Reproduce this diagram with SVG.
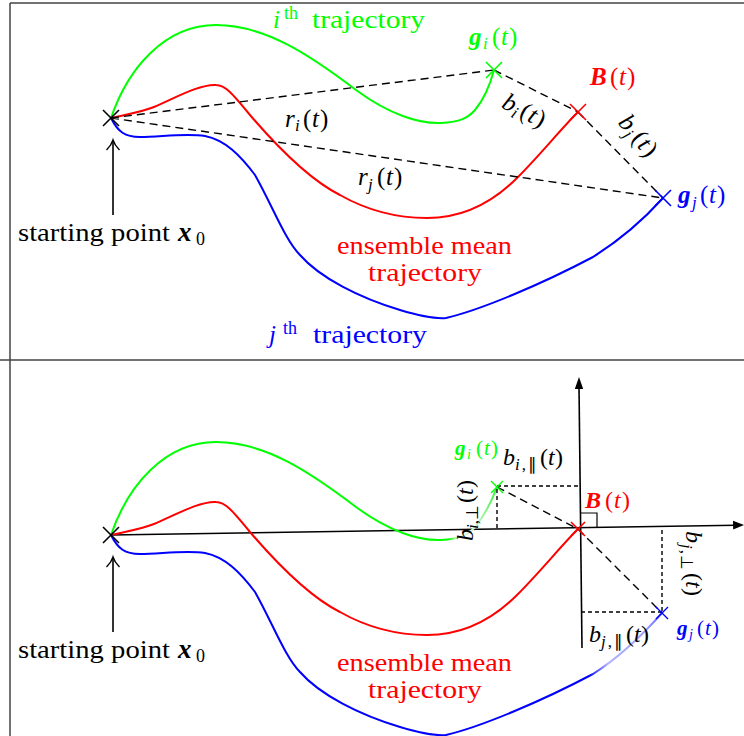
<svg xmlns="http://www.w3.org/2000/svg" width="744" height="736" viewBox="0 0 744 736">
<style>
text{font-family:"Liberation Serif","Times New Roman",serif;}
.it{font-style:italic}
.bi{font-style:italic;font-weight:bold}
.cv{fill:none;stroke-width:2;stroke-linejoin:round;stroke-linecap:round}
.dash{fill:none;stroke:#000;stroke-width:1.4;stroke-dasharray:8 5}
.fdash{fill:none;stroke:#000;stroke-width:1.4;stroke-dasharray:4 3}
.ax{fill:none;stroke:#000;stroke-width:1.6}
.frame{fill:none;stroke:#444;stroke-width:1.5}
.g{fill:#00ff00}
.r{fill:#ff0000}
.b{fill:#0000ff}
</style>
<defs>
<linearGradient id="fadeG" gradientUnits="userSpaceOnUse" x1="111" y1="0" x2="497" y2="0">
<stop offset="0" stop-color="#00ff00"/>
<stop offset="0.875" stop-color="#00ff00"/>
<stop offset="0.9" stop-color="#dcf6dc"/>
<stop offset="0.95" stop-color="#c8f5c8"/>
<stop offset="1" stop-color="#30f030"/>
</linearGradient>
<linearGradient id="fadeB" gradientUnits="userSpaceOnUse" x1="111" y1="0" x2="663" y2="0">
<stop offset="0" stop-color="#0000ff"/>
<stop offset="0.865" stop-color="#0000ff"/>
<stop offset="0.9" stop-color="#b4b4ff"/>
<stop offset="0.97" stop-color="#a0a0ff"/>
<stop offset="1" stop-color="#6060ff"/>
</linearGradient>
<path id="arrUp" d="M106.5,150 C109.5,147 111.8,144 113,140 C114.2,144 116.5,147 119.5,150" fill="none" stroke="#000" stroke-width="1.4"/>
</defs>

<g id="frame">
<path class="frame" d="M10,3 H744 M10,3 V736 M0,360 H744"/>
</g>

<g id="top">
<g id="connectors-top">
<path class="cv" stroke="#00ff00" d="M111,118 C128,68 165,25 216,25 C265,25 310,55 356,90 C390,115 420,124 441,123 C460,122 468,118 475,110 C485,98 490,85 494,70"/>
<path class="cv" stroke="#ff0000" d="M111,118 C128,114 142,112 154,107 C175,98 200,84 216,85 C225,85 232,93 250,115 C280,150 310,180 340,195 C370,212 400,218 427,218 C460,218 490,205 517,178 C540,155 560,130 578,112"/>
<path class="cv" stroke="#0000ff" d="M111,118 C118,132 125,137 140,137 C160,137 185,133 205,136 C225,140 240,155 255,175 C272,205 285,240 300,255 C320,278 360,298 400,310 C420,316 435,319 446,318 C480,310 540,285 593,257 C620,240 645,218 663,198"/>
<path class="dash" d="M111,118 L494,70 M111,118 L663,198 M494,70 L578,112 M578,112 L663,198"/>
<path d="M113,215 V141" stroke="#000" stroke-width="1.6" fill="none"/>
<use href="#arrUp"/>
</g>
<g id="x0-top">
<path d="M103,110 L119,126 M103,126 L119,110" stroke="#000" stroke-width="1.6"/>
<text x="18" y="241" font-size="26" textLength="152" lengthAdjust="spacingAndGlyphs">starting point</text>
<text class="bi" x="178" y="241" font-size="27">x</text>
<text x="196" y="245" font-size="18">0</text>
</g>
<g id="gi-top">
<path d="M486,62 L502,78 M486,78 L502,62" stroke="#00ff00" stroke-width="1.6"/>
<text class="bi g" x="469" y="45" font-size="25">g</text>
<text class="it g" x="483" y="49" font-size="17">i</text>
<text class="g" x="492" y="45" font-size="25">(</text>
<text class="it g" x="501" y="45" font-size="25">t</text>
<text class="g" x="509" y="45" font-size="25">)</text>
</g>
<g id="B-top">
<path d="M570,104 L586,120 M570,120 L586,104" stroke="#ff0000" stroke-width="1.6"/>
<text class="bi r" x="590" y="85" font-size="25">B</text>
<text class="r" x="610" y="85" font-size="25">(</text>
<text class="it r" x="619" y="85" font-size="25">t</text>
<text class="r" x="627" y="85" font-size="25">)</text>
</g>
<g id="gj-top">
<path d="M655,190 L671,206 M655,206 L671,190" stroke="#0000ff" stroke-width="1.6"/>
<text class="bi b" x="678" y="203" font-size="25">g</text>
<text class="it b" x="692" y="208" font-size="17">j</text>
<text class="b" x="700" y="203" font-size="25">(</text>
<text class="it b" x="709" y="203" font-size="25">t</text>
<text class="b" x="717" y="203" font-size="25">)</text>
</g>
<g id="labels-top">
<text class="it g" x="273" y="28" font-size="25">i</text>
<text class="g" x="284" y="19" font-size="18">th</text>
<text class="g" x="312" y="28" font-size="26" textLength="113" lengthAdjust="spacingAndGlyphs">trajectory</text>
<text class="it b" x="269" y="343" font-size="25">j</text>
<text class="b" x="283" y="334" font-size="18">th</text>
<text class="b" x="313" y="343" font-size="26" textLength="114" lengthAdjust="spacingAndGlyphs">trajectory</text>
<text class="r" x="337" y="254" font-size="26" textLength="175" lengthAdjust="spacingAndGlyphs">ensemble mean</text>
<text class="r" x="368" y="281" font-size="26" textLength="114" lengthAdjust="spacingAndGlyphs">trajectory</text>
<text class="it" x="285" y="127" font-size="25">r</text>
<text class="it" x="295" y="131" font-size="17">i</text>
<text x="303" y="127" font-size="25">(</text>
<text class="it" x="312" y="127" font-size="25">t</text>
<text x="320" y="127" font-size="25">)</text>
<text class="it" x="358" y="185" font-size="25">r</text>
<text class="it" x="368" y="190" font-size="17">j</text>
<text x="377" y="185" font-size="25">(</text>
<text class="it" x="386" y="185" font-size="25">t</text>
<text x="394" y="185" font-size="25">)</text>
<g transform="translate(525,112) rotate(28)">
<text class="it" x="-24" y="7" font-size="25">b</text>
<text class="it" x="-11" y="11" font-size="17">i</text>
<text x="-4" y="7" font-size="25">(</text>
<text class="it" x="5" y="7" font-size="25">t</text>
<text x="13" y="7" font-size="25">)</text>
</g>
<g transform="translate(638,137) rotate(50)">
<text class="it" x="-24" y="7" font-size="25">b</text>
<text class="it" x="-11" y="11" font-size="17">j</text>
<text x="-3" y="7" font-size="25">(</text>
<text class="it" x="6" y="7" font-size="25">t</text>
<text x="14" y="7" font-size="25">)</text>
</g>
</g>
</g>

<g id="bottom">
<g id="connectors-bottom">
<path class="ax" d="M111,535 L736,525.2"/>
<polygon points="744,525 733,520.7 733.2,529.5" fill="#000"/>
<path class="ax" d="M582,648 L579,386"/>
<polygon points="579,377 574.8,389 583.2,389" fill="#000"/>
<path d="M580,513 H597 V528" fill="none" stroke="#000" stroke-width="1.2"/>
<path class="cv" stroke="#ff0000" d="M111,535 C128,531 142,529 154,524 C175,515 200,501 216,502 C225,502 232,510 250,532 C280,567 310,597 340,612 C370,629 400,635 427,635 C460,635 490,622 517,595 C540,572 560,547 578,529"/>
<path class="cv" stroke="url(#fadeG)" d="M111,535 C128,485 165,442 216,442 C265,442 310,472 356,507 C390,532 420,541 441,540 C460,539 468,535 475,527 C485,515 491,503 497,487"/>
<path class="cv" stroke="url(#fadeB)" d="M111,535 C118,549 125,554 140,554 C160,554 185,550 205,553 C225,557 240,572 255,592 C272,622 285,657 300,672 C320,695 360,715 400,727 C420,733 435,736 446,735 C480,727 540,702 593,674 C620,657 645,632 662,613"/>
<path class="dash" d="M497,487 L578,529 M578,529 L662,613"/>
<path class="fdash" d="M497,486 H579 M497,489 V530 M662,612 H582 M662,611 V527"/>
<path d="M113,632 V558" stroke="#000" stroke-width="1.6" fill="none"/>
<use href="#arrUp" transform="translate(0,417)"/>
</g>
<g id="x0-bottom">
<path d="M103,527 L119,543 M103,543 L119,527" stroke="#000" stroke-width="1.6"/>
<text x="18" y="658" font-size="26" textLength="152" lengthAdjust="spacingAndGlyphs">starting point</text>
<text class="bi" x="178" y="658" font-size="27">x</text>
<text x="196" y="662" font-size="18">0</text>
</g>
<g id="gi-bottom">
<path d="M491,481 L503,493 M491,493 L503,481" stroke="#00ff00" stroke-width="1.4"/>
<text class="bi g" x="455" y="455" font-size="21">g</text>
<text class="it g" x="467" y="459" font-size="14">i</text>
<text class="g" x="476" y="455" font-size="21">(</text>
<text class="it g" x="484" y="455" font-size="21">t</text>
<text class="g" x="491" y="455" font-size="21">)</text>
</g>
<g id="B-bottom">
<path d="M571,522 L585,536 M571,536 L585,522" stroke="#ff0000" stroke-width="1.6"/>
<text class="bi r" x="585" y="508" font-size="24">B</text>
<text class="r" x="605" y="508" font-size="24">(</text>
<text class="it r" x="614" y="508" font-size="24">t</text>
<text class="r" x="622" y="508" font-size="24">)</text>
</g>
<g id="gj-bottom">
<path d="M656,607 L668,619 M656,619 L668,607" stroke="#0000ff" stroke-width="1.4"/>
<text class="bi b" x="677" y="635" font-size="21">g</text>
<text class="it b" x="689" y="639" font-size="14">j</text>
<text class="b" x="697" y="635" font-size="21">(</text>
<text class="it b" x="705" y="635" font-size="21">t</text>
<text class="b" x="712" y="635" font-size="21">)</text>
</g>
<g id="labels-bottom">
<text class="r" x="337" y="671" font-size="26" textLength="175" lengthAdjust="spacingAndGlyphs">ensemble mean</text>
<text class="r" x="368" y="698" font-size="26" textLength="114" lengthAdjust="spacingAndGlyphs">trajectory</text>
<text class="it" x="503" y="465" font-size="24">b</text>
<text x="515" y="470" font-size="17" textLength="22" lengthAdjust="spacing"><tspan class="it">i</tspan>,∥</text>
<text x="540" y="465" font-size="24">(</text>
<text class="it" x="548" y="465" font-size="24">t</text>
<text x="555" y="465" font-size="24">)</text>
<text class="it" x="589" y="642" font-size="24">b</text>
<text x="601" y="647" font-size="17" textLength="22" lengthAdjust="spacing"><tspan class="it">j</tspan>,∥</text>
<text x="626" y="642" font-size="24">(</text>
<text class="it" x="634" y="642" font-size="24">t</text>
<text x="641" y="642" font-size="24">)</text>
<g transform="translate(473,541) rotate(-90)">
<text class="it" x="0" y="0" font-size="24">b</text>
<text x="12" y="5" font-size="17" textLength="24" lengthAdjust="spacing"><tspan class="it">i</tspan>,⊥</text>
<text x="38" y="0" font-size="24">(</text>
<text class="it" x="46" y="0" font-size="24">t</text>
<text x="53" y="0" font-size="24">)</text>
</g>
<g transform="translate(686,531) rotate(90)">
<text class="it" x="0" y="0" font-size="24">b</text>
<text x="13" y="5" font-size="17" textLength="26" lengthAdjust="spacing"><tspan class="it">j</tspan>,⊥</text>
<text x="42" y="0" font-size="24">(</text>
<text class="it" x="50" y="0" font-size="24">t</text>
<text x="57" y="0" font-size="24">)</text>
</g>
</g>
</g>
</svg>
